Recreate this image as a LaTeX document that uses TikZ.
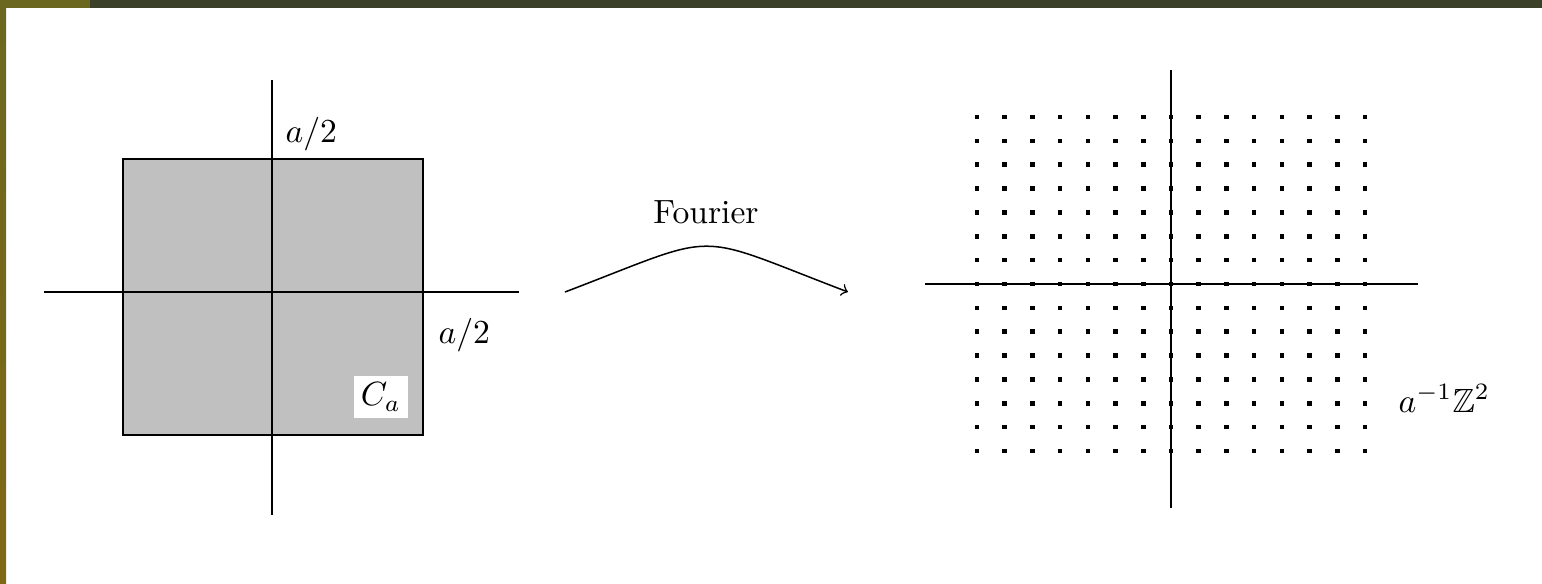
\documentclass[tikz,border=0pt]{standalone}
\usepackage{amsmath,amssymb}
\usetikzlibrary{calc}
\definecolor{ftolive}{RGB}{107,103,32}
\definecolor{ftoliveb}{RGB}{127,104,20}
\definecolor{ftdark}{RGB}{58,65,40}
\definecolor{ftgray}{RGB}{192,192,192}
\tikzset{
  ftaxis/.style={draw=black,line width=0.6pt},
  ftcell/.style={fill=ftgray,draw=black,line width=0.6pt},
  ftdot/.style={fill=black},
  ftlabel/.style={inner sep=0pt,anchor=base west},
  fttag/.style={fill=white,inner sep=2pt},
  ftarrow/.style={->,line width=0.45pt}
}
\begin{document}
\begin{tikzpicture}[x=0.2976pt,y=-0.2976pt]
\useasboundingbox (0,0) rectangle (1542,583);
% slide frame
\fill[ftdark] (90,0) rectangle (1542,8);
\fill[ftolive] (0,0) rectangle (90,8);
\shade[top color=ftolive,bottom color=ftoliveb] (0,0) rectangle (6,583);

% cell C_a
\filldraw[ftcell] (123,159) rectangle (423,435);
\coordinate (lxw) at (44,292);
\coordinate (lxe) at (519,292);
\coordinate (lyn) at (272,80);
\coordinate (lys) at (272,515);
\draw[ftaxis] (lxw) -- (lxe);
\draw[ftaxis] (lyn) -- (lys);
\node[ftlabel] (ltop) at (285,142) {$a/2$};
\node[ftlabel] (lright) at (438,343) {$a/2$};
\node[fttag] (lcell) at (381,397) {$C_a$};

% Fourier arrow
\coordinate (fsrc) at (565,292);
\coordinate (fdst) at (848,292);
\draw[ftarrow] (fsrc) .. controls (725,231) and (688,231) .. (fdst);
\node[anchor=base] (flabel) at (706,223) {Fourier};

% dual lattice
\coordinate (rxw) at (925,284);
\coordinate (rxe) at (1418,284);
\coordinate (ryn) at (1171,70);
\coordinate (rys) at (1171,508);
\draw[ftaxis] (rxw) -- (rxe);
\draw[ftaxis] (ryn) -- (rys);
\foreach \i in {-7,...,7}
  \foreach \j in {-7,...,7}
    \fill[ftdot] ($(1171+27.71*\i,284+23.86*\j)+(-2.3,-2.3)$) rectangle +(4.6,4.6);
\node[ftlabel] (rlabel) at (1398,412) {$a^{-1}\mathbb{Z}^2$};
\end{tikzpicture}
\end{document}
